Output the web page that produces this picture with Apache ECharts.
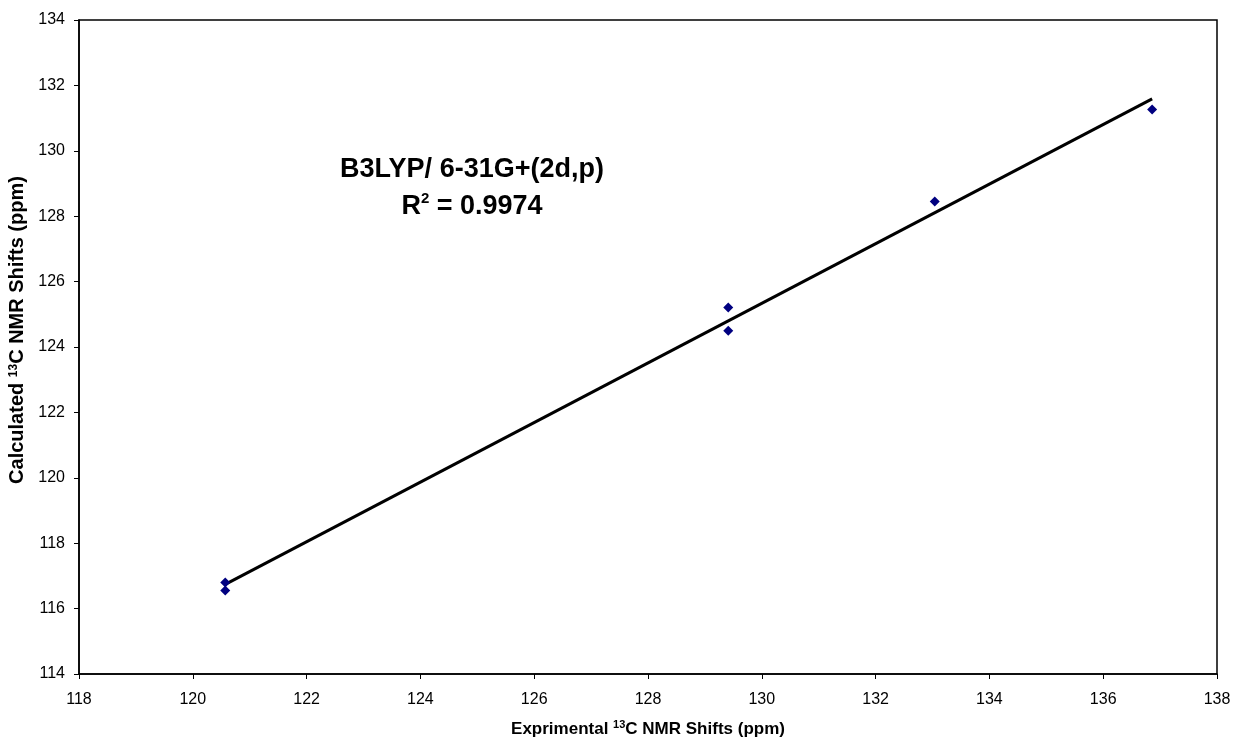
<!DOCTYPE html>
<html>
<head>
<meta charset="utf-8">
<script src="https://cdn.jsdelivr.net/npm/echarts@6/dist/echarts.min.js"></script>
<style>
html,body{margin:0;padding:0;background:#fff;}
#chart{width:1233px;height:740px;}
</style>
</head>
<body>
<div id="chart"></div>
<script>
// Experimental vs calculated 13C NMR shifts (ppm)
var experimental = [120.57, 120.57, 129.41, 129.41, 133.04, 136.86];
var calculated   = [116.80, 116.55, 125.21, 124.50, 128.45, 131.26];
var xTicks = [118, 120, 122, 124, 126, 128, 130, 132, 134, 136, 138];
var yTicks = [114, 116, 118, 120, 122, 124, 126, 128, 130, 132, 134];
var methodLabel = 'B3LYP/ 6-31G+(2d,p)';
var r2Value = '0.9974';

// least-squares trendline from the data
function fit(xs, ys) {
  var n = xs.length, mx = 0, my = 0;
  for (var i = 0; i < n; i++) { mx += xs[i]; my += ys[i]; }
  mx /= n; my /= n;
  var sxy = 0, sxx = 0;
  for (var j = 0; j < n; j++) { sxy += (xs[j]-mx)*(ys[j]-my); sxx += (xs[j]-mx)*(xs[j]-mx); }
  var b = sxy / sxx;
  return { slope: b, intercept: my - b*mx };
}
var f = fit(experimental, calculated);
var xMin = Math.min.apply(null, experimental), xMax = Math.max.apply(null, experimental);
var trend = [[xMin, f.intercept + f.slope*xMin], [xMax, f.intercept + f.slope*xMax]];
var points = experimental.map(function (x, i) { return [x, calculated[i]]; });

var FONT = 'Liberation Sans, Arial, sans-serif';
function titleRich(size, supSize) {
  return {
    b: { fontFamily: FONT, fontSize: size, fontWeight: 'bold', color: '#000', lineHeight: 20 },
    s: { fontFamily: FONT, fontSize: supSize, fontWeight: 'bold', color: '#000', verticalAlign: 'top', lineHeight: 20, padding: [0,0,8,0] }
  };
}
var chart = echarts.init(document.getElementById('chart'));
chart.setOption({
  animation: false,
  backgroundColor: '#fff',
  grid: { left: 79, right: 16, top: 20, bottom: 66, containLabel: false, outerBoundsMode: 'none',
          show: true, borderColor: '#000', borderWidth: 1.5, backgroundColor: 'transparent' },
  xAxis: {
    type: 'value', min: xTicks[0], max: xTicks[xTicks.length-1], interval: 2,
    name: '{b|Exprimental }{s|13}{b|C NMR Shifts (ppm)}',
    nameLocation: 'middle', nameGap: 45,
    nameTextStyle: { rich: titleRich(17, 11) },
    axisLine: { show: true, lineStyle: { color: '#000', width: 1.5 } },
    axisTick: { show: true, inside: false, length: 5, lineStyle: { color: '#000', width: 1 } },
    axisLabel: { fontFamily: FONT, fontSize: 16, color: '#000', margin: 18 },
    splitLine: { show: false }
  },
  yAxis: {
    type: 'value', min: yTicks[0], max: yTicks[yTicks.length-1], interval: 2,
    name: '{b|Calculated }{s|13}{b|C NMR Shifts (ppm)}',
    nameLocation: 'middle', nameGap: 38, nameRotate: 90,
    nameTextStyle: { rich: titleRich(20, 12), padding: [0, 0, 0, 34] },
    axisLine: { show: true, lineStyle: { color: '#000', width: 1.5 } },
    axisTick: { show: true, inside: false, length: 5, lineStyle: { color: '#000', width: 1 } },
    axisLabel: { fontFamily: FONT, fontSize: 16, color: '#000', margin: 14 },
    splitLine: { show: false }
  },
  graphic: [{
    type: 'text', z: 10,
    style: {
      x: 472, y: 151,
      text: '{t|' + methodLabel + '}\n{t|R}{s|2}{t| = ' + r2Value + '}',
      align: 'center', verticalAlign: 'top',
      rich: {
        t: { fontFamily: FONT, fontSize: 27, fontWeight: 'bold', fill: '#000', lineHeight: 37, align: 'center' },
        s: { fontFamily: FONT, fontSize: 15, fontWeight: 'bold', fill: '#000', lineHeight: 37, verticalAlign: 'top', padding: [3,0,0,0] }
      }
    }
  }],
  series: [
    {
      type: 'line', data: trend, symbol: 'none', silent: true,
      lineStyle: { color: '#000', width: 3 }, z: 2
    },
    {
      type: 'scatter', data: points, symbol: 'diamond', symbolSize: 10,
      itemStyle: { color: '#000080', opacity: 1 }, z: 3
    }
  ]
});
</script>
</body>
</html>
